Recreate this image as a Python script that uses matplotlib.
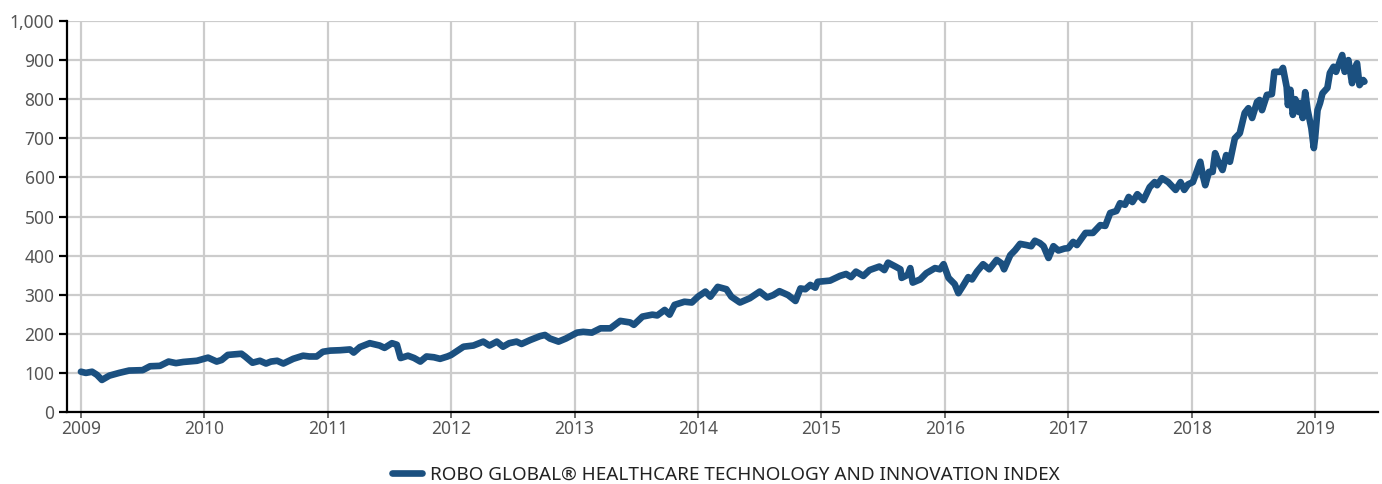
import matplotlib
matplotlib.use('Agg')
from matplotlib import pyplot as plt
from matplotlib.ticker import FuncFormatter

plt.rcParams['font.family'] = ['Noto Sans', 'DejaVu Sans']

# index level, dates as decimal years
dates = [
    2009.00, 2009.04, 2009.09, 2009.13, 2009.17, 2009.23, 2009.31, 2009.39, 2009.50, 2009.56,
    2009.64, 2009.71, 2009.77, 2009.83, 2009.94, 2010.03, 2010.10, 2010.14, 2010.19, 2010.30,
    2010.33, 2010.39, 2010.45, 2010.50, 2010.54, 2010.59, 2010.64, 2010.72, 2010.80, 2010.85,
    2010.91, 2010.96, 2011.02, 2011.10, 2011.18, 2011.21, 2011.26, 2011.34, 2011.42, 2011.46,
    2011.52, 2011.56, 2011.59, 2011.65, 2011.70, 2011.75, 2011.80, 2011.86, 2011.91, 2011.97,
    2012.00, 2012.10, 2012.18, 2012.26, 2012.31, 2012.37, 2012.42, 2012.47, 2012.53, 2012.57,
    2012.64, 2012.72, 2012.76, 2012.80, 2012.87, 2012.93, 2012.96, 2013.02, 2013.07, 2013.14,
    2013.21, 2013.29, 2013.37, 2013.45, 2013.48, 2013.55, 2013.63, 2013.67, 2013.73, 2013.77,
    2013.81, 2013.89, 2013.95, 2014.00, 2014.06, 2014.10, 2014.16, 2014.23, 2014.27, 2014.34,
    2014.42, 2014.50, 2014.56, 2014.61, 2014.66, 2014.73, 2014.79, 2014.83, 2014.87, 2014.91,
    2014.95, 2014.97, 2015.07, 2015.15, 2015.20, 2015.24, 2015.28, 2015.34, 2015.39, 2015.47,
    2015.51, 2015.54, 2015.60, 2015.64, 2015.65, 2015.70, 2015.72, 2015.74, 2015.80, 2015.85,
    2015.92, 2015.96, 2015.99, 2016.03, 2016.08, 2016.11, 2016.15, 2016.19, 2016.22, 2016.26,
    2016.31, 2016.36, 2016.42, 2016.46, 2016.48, 2016.53, 2016.57, 2016.61, 2016.66, 2016.70,
    2016.73, 2016.77, 2016.80, 2016.84, 2016.88, 2016.92, 2016.97, 2017.00, 2017.04, 2017.07,
    2017.14, 2017.20, 2017.26, 2017.30, 2017.34, 2017.39, 2017.42, 2017.46, 2017.49, 2017.52,
    2017.56, 2017.61, 2017.66, 2017.70, 2017.72, 2017.76, 2017.81, 2017.87, 2017.91, 2017.94,
    2017.97, 2018.01, 2018.04, 2018.07, 2018.09, 2018.11, 2018.14, 2018.17, 2018.19, 2018.22,
    2018.25, 2018.28, 2018.31, 2018.35, 2018.39, 2018.43, 2018.46, 2018.49, 2018.53, 2018.55,
    2018.57, 2018.61, 2018.65, 2018.67, 2018.72, 2018.74, 2018.77, 2018.78, 2018.80, 2018.82,
    2018.84, 2018.87, 2018.88, 2018.90, 2018.92, 2018.94, 2018.97, 2018.99, 2019.00, 2019.02,
    2019.04, 2019.06, 2019.10, 2019.12, 2019.15, 2019.17, 2019.22, 2019.24, 2019.27, 2019.30,
    2019.31, 2019.34, 2019.36, 2019.39, 2019.40,
]
values = [
    103, 100, 103, 95, 82, 93, 100, 106, 107, 117,
    118, 129, 125, 128, 131, 139, 129, 133, 146, 149,
    142, 126, 131, 124, 129, 131, 124, 136, 144, 142,
    142, 154, 157, 158, 160, 152, 166, 176, 170, 164,
    176, 172, 138, 144, 138, 129, 142, 140, 136, 142,
    146, 167, 170, 180, 170, 180, 167, 176, 180, 174,
    184, 194, 197, 188, 180, 188, 193, 203, 205, 203,
    214, 214, 233, 229, 223, 244, 249, 247, 261, 249,
    274, 282, 280, 295, 308, 295, 320, 314, 295, 280,
    291, 308, 293, 299, 309, 299, 284, 316, 314, 325,
    318, 333, 336, 348, 353, 345, 359, 348, 363, 372,
    363, 382, 372, 365, 343, 351, 368, 331, 339, 355,
    368, 365, 378, 343, 327, 304, 324, 345, 339, 359,
    378, 365, 389, 380, 365, 401, 414, 430, 427, 424,
    438, 432, 424, 394, 424, 413, 418, 419, 435, 427,
    458, 458, 478, 476, 509, 514, 534, 530, 550, 537,
    557, 542, 575, 588, 580, 598, 588, 568, 588, 568,
    582, 588, 614, 640, 606, 580, 614, 614, 662, 637,
    619, 657, 640, 700, 713, 765, 777, 752, 793, 798,
    772, 811, 813, 870, 870, 880, 831, 785, 824, 760,
    800, 767, 790, 752, 818, 772, 726, 675, 700, 772,
    790, 815, 829, 867, 883, 870, 913, 870, 900, 841,
    867, 892, 836, 849, 845,
]
years = list(range(2009, 2020))
series_name = 'ROBO GLOBAL® HEALTHCARE TECHNOLOGY AND INNOVATION INDEX'

fig = plt.figure(figsize=(13.82, 4.84), dpi=100)
ax = fig.add_axes([67 / 1382, 1 - 412 / 484, (1378 - 67) / 1382, (412 - 21) / 484])

ax.plot(dates, values, color='#1b5080', linewidth=4.8,
        solid_joinstyle='round', solid_capstyle='round', label=series_name)

ax.set_xlim(2008.887, 2019.51)
ax.set_ylim(0, 1000)
ax.set_xticks(years)
ax.set_xticklabels([str(y) for y in years])
ax.set_yticks(range(0, 1001, 100))
ax.yaxis.set_major_formatter(FuncFormatter(lambda v, p: f'{int(v):,}'))

# grid and axes styling
ax.grid(True, color='#cccccc', linewidth=1.6)
ax.set_axisbelow(True)
for side in ['top', 'right']:
    ax.spines[side].set_visible(False)
for side in ['left', 'bottom']:
    ax.spines[side].set_linewidth(1.6)
    ax.spines[side].set_color('black')
ax.tick_params(axis='y', length=6, width=1.6, color='black', labelsize=12.5,
               labelcolor='#555555', pad=3)
ax.tick_params(axis='x', length=4, width=1.2, color='#555555', labelsize=12.5,
               labelcolor='#555555', pad=2)

# legend sits under the plot area, centred on it
fig.legend(loc='center', bbox_to_anchor=(726 / 1382, 1 - 475 / 484), frameon=False,
           fontsize=13.6, handlelength=1.6, handletextpad=0.4,
           labelcolor='#222222')

plt.savefig('out.png', dpi=100)
